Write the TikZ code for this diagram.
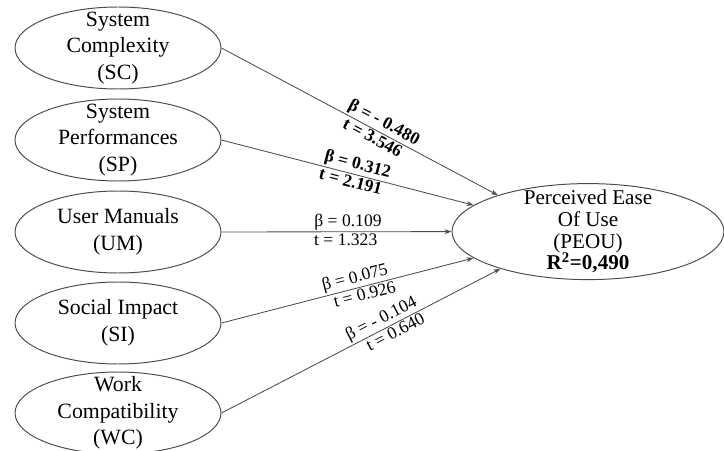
\documentclass[tikz,border=0pt]{standalone}
\usepackage{fontspec}
\setmainfont{Liberation Serif}
\usetikzlibrary{shapes.geometric,arrows.meta}

\tikzset{
  construct/.style={ellipse, draw=black!70, line width=0.7pt,
    minimum width=5.15cm, minimum height=2.05cm,
    inner xsep=0pt, inner ysep=-10pt, align=center,
    font=\fontsize{15.5}{19}\selectfont},
  effect/.style={draw=black!70, line width=0.6pt,
    -{Stealth[length=5pt,width=3.5pt]}},
  coef/.style={sloped, inner sep=1pt,
    font=\fontsize{12.5}{12.5}\selectfont},
  strong/.style={coef, font=\fontsize{12.5}{12.5}\selectfont\bfseries}
}

\begin{document}
\begin{tikzpicture}
        \useasboundingbox (0,0) rectangle (18.1,11.25);
        % exogenous constructs
        \node[construct] (sc) at (2.95,10.05) {System\\Complexity\\(SC)};
        \node[construct] (sp) at (2.95,7.75) {System\\Performances\\(SP)};
        \node[construct] (um) at (2.95,5.45) {User Manuals\\(UM)};
        \node[construct] (si) at (2.95,3.175) {Social Impact\\(SI)};
        \node[construct] (wc) at (2.95,0.925) {Work\\Compatibility\\(WC)};

        % endogenous construct
        \node[construct, minimum width=6.8cm, minimum height=2.4cm, inner ysep=-14pt,
              font=\fontsize{15}{15.5}\selectfont] (peou) at (14.7,5.46)
              {Perceived Ease\\Of Use\\(PEOU)\\\textbf{R\textsuperscript{2}=0,490}};

        \draw[effect] (sc.east) -- node[strong, pos=0.57, above] {β = - 0.480}
                                   node[strong, pos=0.56, below] {t = 3.546} (peou.158);
        \draw[effect] (sp.east) -- node[strong, pos=0.53, above] {β = 0.312}
                                   node[strong, pos=0.52, below] {t = 2.191} (peou.167);
        \draw[effect] (um.east) -- node[coef, pos=0.55, above] {β = 0.109}
                                   node[coef, pos=0.54, below] {t = 1.323} (peou.180);
        \draw[effect] (si.east) -- node[coef, pos=0.54, above] {β = 0.075}
                                   node[coef, pos=0.56, below] {t = 0.926} (peou.193.5);
        \draw[effect] (wc.east) -- node[coef, pos=0.59, above] {β = - 0.104}
                                   node[coef, pos=0.61, below] {t = 0.640} (peou.203);
\end{tikzpicture}
\end{document}
